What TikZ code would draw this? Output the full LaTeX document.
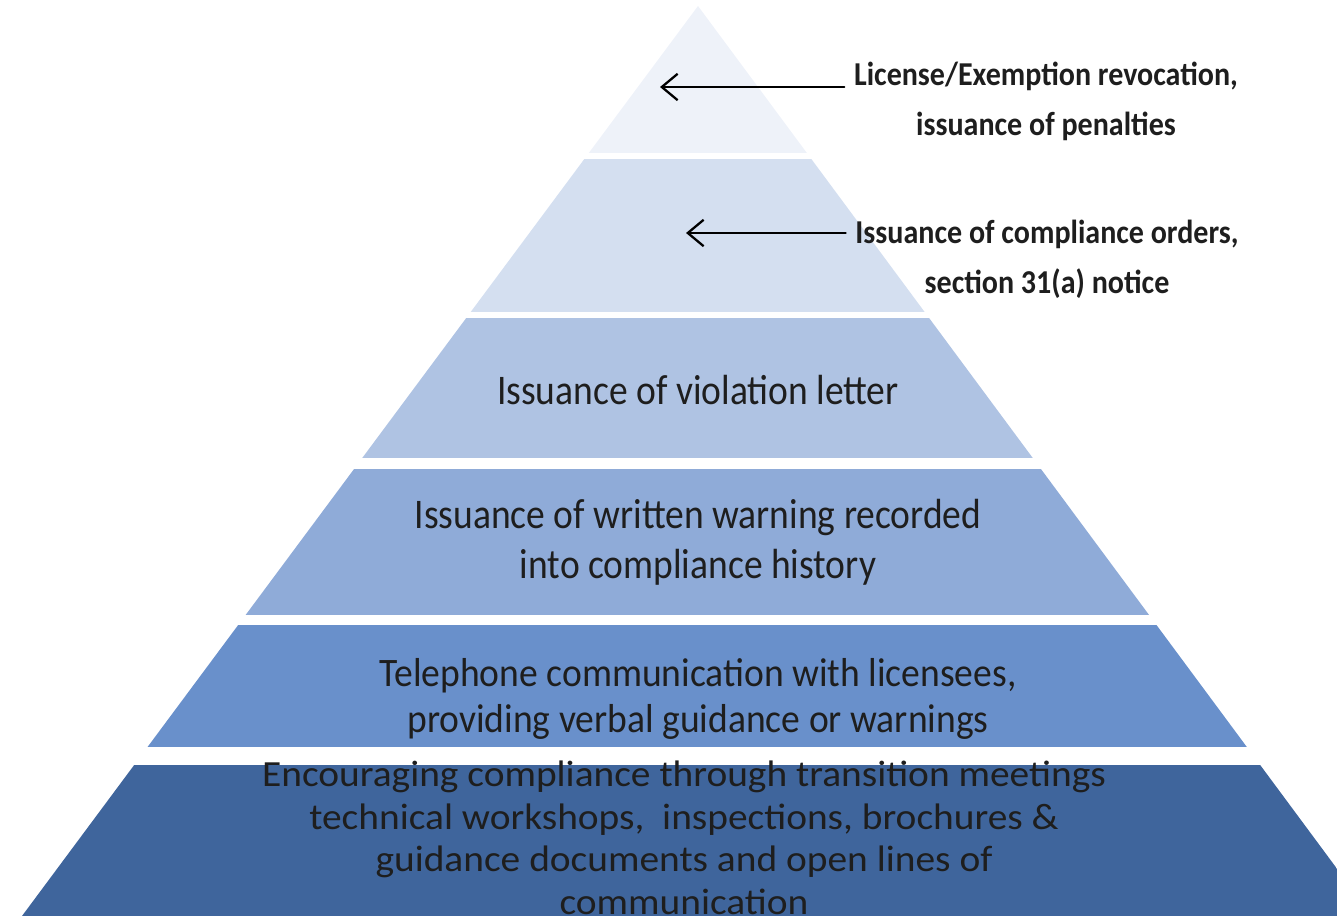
\documentclass[tikz,border=0pt]{standalone}
\usepackage{fontspec}
\setmainfont{Carlito}
\usetikzlibrary{arrows.meta}
\definecolor{tierA}{HTML}{EEF2F9}
\definecolor{tierB}{HTML}{D4DFF0}
\definecolor{tierC}{HTML}{AFC3E3}
\definecolor{tierD}{HTML}{8FABD8}
\definecolor{tierE}{HTML}{6990CB}
\definecolor{tierF}{HTML}{3F659C}
\definecolor{ink}{HTML}{1E1E1E}
\begin{document}
\begin{tikzpicture}[x=0.02cm,y=-0.02cm,line cap=round,
  >={Straight Barb[length=9pt,width=15pt]},
  tiertext/.style={align=center,text=ink,font=\fontsize{24}{28.5}\selectfont,xscale=0.89},
  sidenote/.style={align=center,text=ink,inner sep=6pt,font=\bfseries\fontsize{19}{28.5}\selectfont,xscale=0.9}]
\useasboundingbox (0,0) rectangle (1337,916);
% the pyramid, cut into tiers
\begin{scope}
  \clip (698,6)--(1372,916)--(22,916)--cycle;
  \foreach \t/\b/\c in {0/153/tierA,159/312/tierB,318/458/tierC,469/615/tierD,625/747/tierE,765/916/tierF}
    \fill[\c] (0,\t) rectangle (1337,\b);
\end{scope}
% tier labels
\node[tiertext] (violation) at (698,390) {Issuance of violation letter};
\node[tiertext] (written) at (698,542) {Issuance of written warning recorded\\into compliance history};
\node[tiertext,font=\fontsize{23}{26.2}\selectfont,xscale=1.045] (phone) at (698,699) {Telephone communication with licensees,\\providing verbal guidance or warnings};
\node[tiertext,font=\fontsize{21}{24.2}\selectfont,xscale=1.2] (outreach) at (684,838) {Encouraging compliance through transition meetings\\technical workshops,\ \ inspections, brochures \&\\guidance documents and open lines of\\communication};
% notes on the two top tiers
\node[sidenote] (revoke) at (1046,101) {License/Exemption revocation,\\issuance of penalties};
\node[sidenote] (orders) at (1047,259) {Issuance of compliance orders,\\section 31(a) notice};
\coordinate (tipA) at (660,87);
\coordinate (tipB) at (686,233);
\draw[->,line width=1.3pt] (revoke.west |- tipA) -- (tipA);
\draw[->,line width=1.3pt] (orders.west |- tipB) -- (tipB);
\end{tikzpicture}
\end{document}
